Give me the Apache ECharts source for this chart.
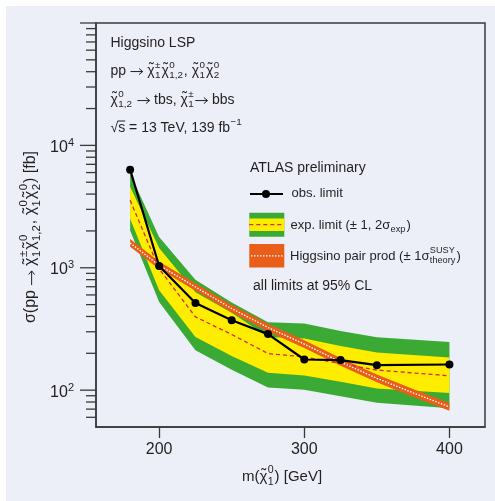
<!DOCTYPE html>
<html><head><meta charset="utf-8">
<script src="https://cdn.jsdelivr.net/npm/echarts@6/dist/echarts.min.js"></script>
<style>
html,body{margin:0;padding:0;background:#fff;width:495px;height:501px;overflow:hidden}
#bg{position:absolute;left:6px;top:6px;width:489px;height:495px;background:#eceef8}
#chart{position:absolute;left:0;top:0;width:495px;height:501px}
</style></head><body><div id="bg"></div><div id="chart"></div>
<script>
const FONT = '"Liberation Sans", Arial, sans-serif';
const TXT = '#231f20';
const AX = '#3a3a3a';

// ---- data ----
const massExp   = [180, 200, 225, 250, 275, 300, 325, 350, 400];
const obsLimit  = [6330, 1035, 516, 373, 287, 178, 176, 160, 162];
const expLimit  = [3560, 980, 397, 285, 199, 187, 165, 146, 131];
const exp1Up    = [4600, 1450, 630, 430, 272, 264, 230, 203, 185];
const exp1Down  = [2520, 655, 272, 190, 139, 132, 117, 103, 95];
const exp2Up    = [5900, 1780, 800, 520, 358, 350, 305, 270, 247];
const exp2Down  = [2020, 526, 212, 147, 105, 101, 89, 79, 71];
const massTheory = [180, 200, 225, 250, 275, 300, 325, 350, 375, 400];
const theory     = [1595, 1048, 697, 464, 325, 238, 170, 125, 95, 73];
const theoryUp   = [1715, 1127, 749, 499, 349, 256, 183, 134, 102, 78.5];
const theoryDown = [1483, 975, 648, 432, 302, 221, 158, 116, 88, 68];

const xTicks = [200, 300, 400];
const yMajorTicks = [100, 1000, 10000, 100000];
const yMinorTicks = [60, 70, 80, 90, 200, 300, 400, 500, 600, 700, 800, 900,
  2000, 3000, 4000, 5000, 6000, 7000, 8000, 9000,
  20000, 30000, 40000, 50000, 60000, 70000, 80000, 90000];
const X_MIN = 156.5, X_MAX = 424.5, Y_MIN = 50, Y_MAX = 100000;

// ---- text helpers ----
const mctx = document.createElement('canvas').getContext('2d');
function tw(s, fs) { mctx.font = fs + 'px ' + FONT; return mctx.measureText(s).width; }
function T(s, x, y, fs) {
  return { type: 'text', x: x, y: y, silent: true,
    style: { text: s, fontSize: fs, fontFamily: FONT, fill: TXT, align: 'left', verticalAlign: 'middle' } };
}
function C(sup, sub) { return { chi: true, sup: sup, sub: sub }; }
const AR = { arrow: true };
function build(parts, fs, x0, y0) {
  const els = [];
  let x = x0;
  const sfs = Math.round(fs * 0.71 * 10) / 10;
  for (const p of parts) {
    if (typeof p === 'string') { els.push(T(p, x, y0, fs)); x += tw(p, fs); continue; }
    if (p.arrow) {
      const L = fs * 0.95, ay = y0 + fs * 0.04;
      els.push({ type: 'line', silent: true, shape: { x1: x + 0.5, y1: ay, x2: x + L - 0.8, y2: ay }, style: { stroke: TXT, lineWidth: 1 } });
      els.push({ type: 'polyline', silent: true, shape: { points: [[x + L - 4.2, ay - 3], [x + L - 0.5, ay], [x + L - 4.2, ay + 3]] }, style: { stroke: TXT, lineWidth: 1, fill: null } });
      x += L;
      continue;
    }
    if (p.chi) {
      const w = tw('χ', fs);
      els.push(T('χ', x, y0, fs));
      const tl = tw('˜', fs);
      els.push(T('˜', x + (w - tl) / 2 + 0.5, y0 - fs * 0.1, fs));
      x += w;
    }
    if (p.sqrt) {
      const w1 = tw('√', fs), w2 = tw(p.sqrt, fs);
      els.push(T('√', x, y0, fs));
      els.push(T(p.sqrt, x + w1, y0, fs));
      els.push({ type: 'line', silent: true, shape: { x1: x + w1 - 0.5, y1: y0 - fs * 0.5, x2: x + w1 + w2, y2: y0 - fs * 0.5 },
        style: { stroke: TXT, lineWidth: 1 } });
      x += w1 + w2;
    }
    let w2 = 0;
    if (p.sup != null) { els.push(T(p.sup, x + 0.4, y0 - fs * 0.42, sfs)); w2 = Math.max(w2, tw(p.sup, sfs)); }
    if (p.sub != null) { els.push(T(p.sub, x + 0.4, y0 + fs * 0.34, sfs)); w2 = Math.max(w2, tw(p.sub, sfs)); }
    if (w2) x += w2 + 1.4;
  }
  return { els: els, w: x - x0 };
}
function shiftEl(e, dx, dy) {
  if (e.type === 'line') { e.shape.x1 += dx; e.shape.x2 += dx; e.shape.y1 += dy; e.shape.y2 += dy; }
  else if (e.type === 'polyline') { e.shape.points = e.shape.points.map(p => [p[0] + dx, p[1] + dy]); }
  else { e.x += dx; e.y += dy; }
}
function centered(parts, fs, cx, cy) {
  const b = build(parts, fs, 0, 0);
  b.els.forEach(e => shiftEl(e, cx - b.w / 2, cy));
  return b.els;
}

// ---- annotation texts ----
const annLines = [
  ['Higgsino LSP'],
  ['pp ', AR, ' ', C('±', '1'), C('0', '1,2'), ', ', C('0', '1'), C('0', '2')],
  [C('0', '1,2'), ' ', AR, ' tbs, ', C('±', '1'), AR, ' bbs'],
  [{ sqrt: 's' }, ' = 13 TeV, 139 fb', { sup: '−1' }]
];
const annY = [43, 71, 100, 128];
const yTitle = ['σ(pp ', AR, ' ', C('±', '1'), C('0', '1,2'), ', ', C('0', '1'), C('0', '2'), ') [fb]'];
const xTitle = ['m(', C('0', '1'), ') [GeV]'];

const graphics = [];
annLines.forEach((l, i) => { build(l, 14, 110.5, annY[i]).els.forEach(e => graphics.push(e)); });
// legend
graphics.push(T('ATLAS preliminary', 250, 168, 14));
graphics.push({ type: 'line', silent: true, shape: { x1: 250, y1: 194, x2: 283, y2: 194 }, style: { stroke: '#000', lineWidth: 2.2 } });
graphics.push({ type: 'circle', silent: true, shape: { cx: 266, cy: 194, r: 4 }, style: { fill: '#000' } });
graphics.push(T('obs. limit', 291.5, 193.5, 13));
graphics.push({ type: 'rect', silent: true, shape: { x: 249.3, y: 212.7, width: 35, height: 24 }, style: { fill: '#3aaa35' } });
graphics.push({ type: 'rect', silent: true, shape: { x: 249.3, y: 218.5, width: 35, height: 12.5 }, style: { fill: '#ffed00' } });
graphics.push({ type: 'line', silent: true, shape: { x1: 249.3, y1: 224.7, x2: 284.3, y2: 224.7 }, style: { stroke: '#d7263d', lineWidth: 1.3, lineDash: [4, 3] } });
build(['exp. limit (± 1, 2σ', { sub: 'exp' }, ')'], 13, 290.5, 225).els.forEach(e => graphics.push(e));
graphics.push({ type: 'rect', silent: true, shape: { x: 249.3, y: 244, width: 35, height: 23.5 }, style: { fill: '#e95e18' } });
graphics.push({ type: 'line', silent: true, shape: { x1: 251, y1: 255.8, x2: 283, y2: 255.8 }, style: { stroke: '#fff', lineWidth: 1.3, lineDash: [1.5, 1.5] } });
build(['Higgsino pair prod (± 1σ', { sup: 'SUSY', sub: 'theory' }, ')'], 13, 290, 256).els.forEach(e => graphics.push(e));
graphics.push(T('all limits at 95% CL', 253, 286.5, 14));
// axis titles
centered(xTitle, 15, 282, 476.5).forEach(e => graphics.push(e));
graphics.push({ type: 'group', x: 31, y: 237, rotation: Math.PI / 2, silent: true, children: centered(yTitle, 16, 0, 0) });

// ---- series helpers ----
function band(xs, up, lo, color) {
  return {
    type: 'custom', silent: true, clip: true,
    data: [[xs[0], up[0]]],
    renderItem: function (params, api) {
      const pts = [];
      for (let i = 0; i < xs.length; i++) pts.push(api.coord([xs[i], up[i]]));
      for (let i = xs.length - 1; i >= 0; i--) pts.push(api.coord([xs[i], lo[i]]));
      return { type: 'polygon', shape: { points: pts }, style: { fill: color } };
    }
  };
}
function zip(a, b) { return a.map((v, i) => [v, b[i]]); }
const yTickData = yMajorTicks.map(v => [X_MIN, v, 1]).concat(yMinorTicks.map(v => [X_MIN, v, 0]));

const chart = echarts.init(document.getElementById('chart'), null, { renderer: 'canvas' });
chart.setOption({
  backgroundColor: 'transparent',
  animation: false,
  grid: { left: 96, top: 23, width: 389, height: 404, show: true, borderColor: AX, borderWidth: 1.5, backgroundColor: 'transparent' },
  xAxis: {
    type: 'value', min: X_MIN, max: X_MAX,
    axisLine: { lineStyle: { color: AX, width: 1.5 } },
    axisTick: { customValues: xTicks, length: 11, lineStyle: { color: AX, width: 1.3 } },
    axisLabel: { customValues: xTicks, margin: 15, fontSize: 16, color: TXT, fontFamily: FONT },
    splitLine: { show: false }
  },
  yAxis: {
    type: 'log', logBase: 10, min: Y_MIN, max: Y_MAX,
    axisLine: { show: true, lineStyle: { color: AX, width: 1.5 } },
    axisTick: { show: false }, splitLine: { show: false }, minorTick: { show: false },
    axisLabel: {
      margin: 22, color: TXT, padding: [4, 0, 0, 0],
      formatter: function (v) {
        const lg = Math.log10(v), e = Math.round(lg);
        if (Math.abs(lg - e) > 1e-6 || e < 2 || e > 4) return '';
        return '{b|10}{s|' + e + '}';
      },
      rich: {
        b: { fontSize: 16, lineHeight: 20, fontFamily: FONT, color: TXT },
        s: { fontSize: 11, lineHeight: 11, verticalAlign: 'top', fontFamily: FONT, color: TXT }
      }
    }
  },
  graphic: { elements: graphics },
  series: [
    band(massExp, exp2Up, exp2Down, '#3aaa35'),
    band(massExp, exp1Up, exp1Down, '#ffed00'),
    { type: 'line', data: zip(massExp, expLimit), symbol: 'none', silent: true,
      lineStyle: { color: '#d7263d', width: 1.3, type: [4, 3] } },
    band(massTheory, theoryUp, theoryDown, '#e95e18'),
    { type: 'line', data: zip(massTheory, theory), symbol: 'none', silent: true,
      lineStyle: { color: '#ffffff', width: 1.3, type: [1.5, 1.5] } },
    { type: 'line', data: zip(massExp, obsLimit), symbol: 'circle', symbolSize: 8, silent: true,
      itemStyle: { color: '#000' }, lineStyle: { color: '#000', width: 2.2 } },
    { type: 'custom', silent: true, clip: false, data: yTickData, z: 5,
      renderItem: function (params, api) {
        const c = api.coord([api.value(0), api.value(1)]);
        const len = api.value(2) ? 16 : 10;
        return { type: 'line', shape: { x1: c[0] - len, y1: c[1], x2: c[0], y2: c[1] }, style: { stroke: AX, lineWidth: 1.3 } };
      } }
  ]
});
</script></body></html>
